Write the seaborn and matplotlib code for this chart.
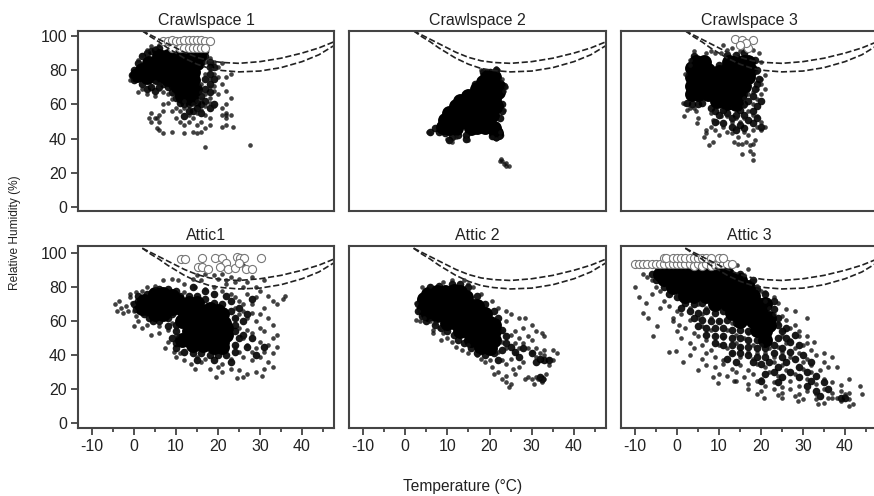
import matplotlib
matplotlib.use("Agg")
import matplotlib.pyplot as plt
import pandas as pd
import seaborn as sns

titles = ["Crawlspace 1", "Crawlspace 2", "Crawlspace 3", "Attic1", "Attic 2", "Attic 3"]
x_ticks = [-10, 0, 10, 20, 30, 40]
x_minor = [-5, 5, 15, 25, 35, 45]
y_ticks = [0, 20, 40, 60, 80, 100]

curve_t = [2, 4, 6, 8, 10, 12, 15, 18, 21, 25, 30, 35, 40, 44, 48]
curve_upper = [103, 100.5, 98, 95.5, 93, 90.5, 87.5, 85.5, 84.5, 84, 85, 87, 90, 93, 97]
curve_lower = [103, 99.5, 96.5, 93, 90, 87, 83.5, 81, 79.8, 79, 79.5, 81.5, 85, 89, 95]

c1_core = [(6, 88), (8, 88), (10, 88), (12, 88), (14, 88), (15.5, 88), (3.5, 84), (5, 84), (7, 85), (9, 84), (11, 84),
           (13, 84), (15, 84), (2, 80), (4, 80), (6, 80), (8, 80), (10, 80), (12, 79), (14, 79), (0.8, 77), (3, 76),
           (5.5, 76), (8, 75), (10, 75), (12, 74), (14, 74), (10.5, 70), (12.5, 69), (14.5, 69), (11.5, 65), (13.5, 64)]
c1_mid = [(0, 74), (2, 72), (4, 70), (6, 70), (8, 70), (9, 67), (10, 64), (11, 61), (13, 60), (15, 61), (16, 65), (17, 69),
          (18, 72), (17, 75), (18, 78), (18, 82), (18, 85), (17, 88), (19, 82), (19, 75), (15, 58), (13, 56), (12, 60),
          (9, 71), (5, 68), (3, 69), (7, 72), (16, 60), (18, 58), (17, 62), (14, 56), (10, 68), (2, 88), (4, 91), (3, 90),
          (5, 92), (1, 84), (0, 80), (-0.5, 77), (6, 93), (17, 91), (15.5, 91), (18, 67), (19, 60), (16, 55), (12, 53)]
c1_dots = [(-1, 74), (2, 69), (1, 67), (3, 66), (4, 71), (5, 73), (6, 69), (7, 67), (8, 66), (5, 65), (9, 63), (8, 61),
           (7, 60), (10, 58), (9, 56), (11, 56), (12, 58), (13, 54), (14, 52), (13, 50), (15, 55), (16, 57), (17, 59),
           (18, 61), (19, 59), (17, 54), (18, 52), (16, 50), (15, 48), (17, 46), (18, 48), (16, 44), (14, 44), (15, 43),
           (12, 43), (9, 44), (6, 45), (7, 43), (5.5, 46), (6, 50), (5, 52), (4, 55), (6, 54), (7, 56), (4, 50), (5.5, 52),
           (3.5, 52), (10, 52), (11, 50), (12, 48), (17, 35), (27.5, 36), (22, 54), (23, 54), (22, 55), (21, 54), (22, 52),
           (21, 47), (22, 48), (23.5, 47), (21, 58), (22, 60), (23, 64), (22, 68), (21, 72), (22, 76), (23, 78), (21, 84),
           (19, 85), (20, 82), (19, 78), (18, 75), (20, 76), (18, 70), (19, 68), (20, 66), (17, 66), (16, 63), (18, 82),
           (17, 85), (19, 71), (18, 64), (16, 72), (17, 78), (15, 62), (14, 60), (12, 62), (9, 66), (6, 72), (2, 89),
           (3, 92), (4, 94), (1, 86), (5, 93), (6, 95), (16, 67), (18, 87), (15, 58)]
c1_open = [(7, 97), (8, 97), (9, 97.5), (10, 97), (11, 97), (12, 97.5), (13, 97.5), (14, 97.5), (15, 97.5), (16, 97.5),
           (17, 97), (18, 97), (9, 93), (11, 93), (12, 93), (13, 93), (14, 93), (15, 93), (16, 93), (17, 93)]

c2_core = [(19.5, 76), (21, 76), (18.5, 73), (20.5, 72), (22, 71), (17, 69), (19, 69), (21, 67), (22, 67), (15, 65),
           (13, 62), (15, 62), (17, 64), (19, 64), (21, 63), (12, 59), (14, 58), (16, 59), (18, 59), (20, 58), (21.5, 59),
           (10.5, 55), (12.5, 54), (14.5, 54), (16.5, 54), (18.5, 54), (20.5, 54), (9.5, 51), (11, 50), (13, 50), (15, 50),
           (17, 50), (19, 50), (9, 47), (10.5, 46), (12, 46), (15.5, 46), (17, 47), (19, 47), (21, 46), (21.5, 43.5)]
c2_mid = [(7, 46), (6, 44), (8, 44), (9.5, 43), (11, 41), (10.5, 39), (14.5, 42), (14.5, 40), (12.5, 42), (20.5, 41.5),
          (21.5, 41), (22.5, 42), (23, 60), (23, 56), (22.5, 52), (18.5, 79), (20, 79), (21.6, 80), (23.5, 71), (16.5, 72)]
c2_dots = [(5.5, 44), (6, 43), (10.5, 39), (11, 38), (10, 40), (12, 41), (14.5, 42), (14.5, 40), (15, 39), (20.5, 41),
           (21.5, 40), (22.5, 41), (22.5, 44), (23.5, 57), (24, 70), (23.5, 68), (23, 75), (22, 80), (21.6, 81),
           (18, 80), (22.8, 28), (22.5, 27), (23, 27), (23.5, 25), (24, 24), (24.5, 24), (24, 25.5)]
c2_open = []

c3_core = [(4.5, 85), (6.5, 85), (3.5, 81), (5.5, 81), (7.5, 80), (3.5, 76), (5, 76), (7, 76), (3.5, 71), (5, 71), (7, 71),
           (9, 71), (3.5, 66), (5, 66), (7.5, 66), (12.5, 85), (14, 85), (16, 85), (17, 85), (10, 79), (12, 80), (14, 81),
           (16, 81), (17.5, 80), (9.5, 76), (11.5, 76), (13.5, 76), (15.5, 76), (17, 76), (10, 71), (12, 71), (14, 71),
           (16, 71), (9, 66), (11, 66), (13, 66), (15, 66), (9.5, 62), (12, 61), (14, 60)]
c3_mid = [(8, 58), (9, 56), (10, 54), (11, 57), (12, 55), (13, 52), (14, 54), (15, 57), (16, 60), (17, 62), (18, 65), (18.5, 69),
          (19, 72), (19.5, 75), (19, 80), (18.5, 86), (2.5, 61), (3.5, 60), (5, 60), (6, 61), (16, 54), (17, 51), (18, 49),
          (19, 52), (15, 48), (13, 47), (11, 49), (9, 50), (16, 46), (18, 56), (19, 59), (20, 62), (14, 45), (4, 88), (10, 83),
          (12, 89), (16, 90), (14, 89), (20, 47)]
c3_dots = [(1.5, 61), (2, 60), (3, 58), (4, 58), (1.7, 53), (2.5, 57), (4.5, 56), (5, 52), (4.8, 49), (7, 45), (8, 47),
           (9, 45), (7, 43), (6.5, 41), (7.7, 36), (8.5, 38), (10, 42), (10.5, 53), (8, 55), (8.5, 51), (9.5, 50), (11, 47),
           (12, 44), (13, 43), (14, 46), (14.5, 41), (13.5, 38), (14.5, 37), (15.5, 37), (16.5, 38), (17.5, 36), (18, 37),
           (18.5, 39), (17.5, 33), (18, 31), (18, 27.5), (15.5, 31), (16, 44), (17, 42), (18, 45), (19, 47), (20, 45),
           (21, 47), (20, 50), (19, 53), (18, 54), (17, 56), (16, 52), (15, 50), (14, 52), (13, 50), (12, 53), (11, 56),
           (16, 59), (18, 60), (19, 63), (20, 66), (21, 69), (20, 72), (19, 69), (20, 75), (21, 77), (19, 79), (20, 85),
           (19.5, 90), (18, 92), (17, 93), (12, 92), (13, 93), (10.5, 90), (11, 95), (9, 90), (8, 91), (7, 90), (4, 91),
           (3, 86), (3, 83), (2, 78), (16, 64), (17, 66), (18, 67), (15, 91), (16, 92)]
c3_open = [(13.8, 98), (15.5, 97.5), (18, 97.5), (17, 93), (16.5, 96), (15, 95)]

a1_core = [(5, 76), (7, 76), (9, 75), (2.5, 72), (4.5, 72), (6.5, 72), (8.5, 72), (10.5, 72), (2, 68), (3, 68), (5, 68),
           (7, 68), (9, 68), (5, 64), (7, 64), (11, 70), (13, 71), (15, 71), (12, 66), (14, 66), (16, 66), (18, 67),
           (20, 66), (21, 64), (11.5, 60), (13.5, 60), (15.5, 60), (17.5, 60), (19.5, 60), (21.5, 59), (22, 56),
           (13, 54), (15, 54), (17, 54), (19, 54), (21, 54), (22, 52), (11.5, 49), (13, 49), (15, 49), (17, 49), (19, 49),
           (21, 48), (14, 46), (16.5, 46), (19, 45), (21, 45)]
a1_mid = [(0, 70), (0.5, 67), (1, 72), (2.5, 64), (3.5, 62), (4.5, 60), (6, 60), (8, 62), (9, 64), (10, 66), (8, 79), (6, 79),
          (10, 78), (11, 75), (13, 75), (15, 75), (17, 73), (19, 71), (21, 70), (23, 66), (24, 62), (24, 58), (24, 54), (25, 50),
          (24, 46), (24, 42), (22, 40), (20, 40), (18, 40), (16, 41), (14, 41), (12, 42), (10, 44), (10, 47), (9, 50), (10, 54),
          (10, 58), (8, 57), (25, 68), (23, 72), (17, 78), (14, 80), (19, 76), (22, 75), (26, 60), (26, 52), (27, 45), (23, 36),
          (19, 37), (15, 37), (29, 40), (31, 45), (28, 50), (3, 76), (1, 75), (27, 64), (28, 73)]
a1_dots = [(-4.5, 70), (-4, 66), (-3.5, 72), (-3, 68), (-2.5, 65), (-2, 69), (-1.5, 66), (-1, 74), (-0.5, 71), (0, 66),
           (-1, 76), (0.5, 77), (2, 78), (3, 80), (5, 81), (7, 84), (9, 85), (10.5, 84), (12, 82), (14, 85), (15, 87),
           (16, 84), (17, 88), (18, 91), (19, 87), (20, 85), (21, 88), (22, 84), (23, 86), (24, 83), (25, 85), (26, 80),
           (27, 83), (28, 86), (29, 80), (30, 78), (31, 84), (32, 75), (33, 72), (36, 75), (35.5, 73), (34, 70), (31, 68),
           (29, 74), (27, 76), (25, 72), (24, 68), (26, 66), (28, 70), (30, 64), (32, 62), (33, 58), (34, 52), (33, 50),
           (31, 54), (29, 60), (27, 62), (25, 56), (26, 50), (28, 53), (30, 48), (32, 46), (34, 45), (33, 41), (31, 42),
           (29, 44), (27, 46), (25, 42), (24, 45), (26, 39), (28, 37), (30, 39), (32, 36), (33, 33), (31, 32), (30.5, 28),
           (29, 30), (27, 29), (26, 27), (24.5, 26.5), (25, 31), (23, 32), (21, 30), (19.5, 27), (20, 33), (18, 32),
           (16, 36), (14.5, 32), (13.5, 35), (12, 37), (10, 39), (9.5, 42), (7.5, 44), (8, 48), (6, 53), (4, 52), (2, 56),
           (0, 57), (1, 60), (3, 58), (6, 57), (8, 55), (10, 52), (21, 35), (23, 38), (17, 38), (15, 39), (11, 41),
           (0.5, 63), (10, 56), (9, 59), (24, 62), (25, 64), (23, 76), (21, 78), (19, 80), (17, 79), (14.5, 80), (12, 77),
           (24, 74), (26, 70), (28, 65), (27, 55), (30, 56), (28, 42), (22, 82), (24, 90), (28, 90), (26, 93)]
a1_open = [(11.3, 96.5), (12.2, 96.5), (16.3, 97), (15.2, 92), (16.3, 92), (17.7, 91), (19.2, 97), (21, 97.5), (22, 94),
           (20.5, 92), (22.5, 91), (24, 91.5), (24.5, 98), (25.3, 97.5), (26.3, 97.5), (26.7, 91), (28, 90.5), (30.2, 97.5),
           (25, 94)]

a2_core = [(5.5, 76), (7.5, 77), (9.5, 77), (11.5, 78), (13, 77), (4.5, 73), (6.5, 74), (8.5, 74), (10.5, 74), (12.5, 74),
           (14.5, 74), (4.5, 68), (6, 68), (8, 69), (10, 69), (12, 69), (14, 69), (16, 69), (17, 69), (5.5, 64), (7.5, 63.5),
           (9.5, 64), (11.5, 64), (13.5, 64), (15.5, 64), (17.5, 64), (19, 64), (10, 59), (12, 59), (14, 59), (16, 59),
           (18, 59), (20, 59), (21, 58), (13, 54), (15, 54), (17, 54), (19, 54), (21, 54), (15.5, 49), (17.5, 49),
           (19.5, 49), (21, 49), (18, 45), (20, 44)]
a2_mid = [(3, 70), (3, 66), (3.5, 72), (4, 63), (5, 60), (7, 58), (8.5, 56), (10, 54), (11.5, 52), (12.5, 49), (14, 47), (15.5, 44),
          (17, 41), (19, 40), (21, 41), (23, 43), (24, 47), (24, 51), (23, 55), (22, 62), (21, 66), (19, 70), (17, 75),
          (15, 80), (13, 82), (11, 82), (8, 81), (6, 80), (25, 45), (26, 42), (27, 39), (28, 44), (22, 37), (30, 41), (32, 38),
          (33, 37), (31, 36), (34, 37), (32, 27), (32.5, 26)]
a2_dots = [(2.5, 61), (3, 66), (2.5, 71), (3.5, 60), (4.5, 62), (6, 60), (7, 59), (6.5, 55), (6.5, 53), (8, 56), (9, 53),
           (8.5, 49), (10, 50), (11, 48), (12, 45), (13.5, 43), (15, 46), (15, 41), (17, 40), (18, 38), (19, 36), (20, 37),
           (20.5, 33), (21, 29), (22, 30), (23, 26), (24, 24), (24.5, 21), (25, 23), (24, 28), (25.5, 32), (26, 29), (27, 33),
           (28, 36), (29, 27), (28.5, 26), (30, 26), (31, 27), (31.5, 26), (32, 27), (33, 26), (32.5, 24), (30.5, 23), (33.5, 29),
           (34, 34), (35, 37), (36, 41), (35, 43), (33, 40), (32, 38), (31, 39), (32, 41), (33, 43), (34, 38), (31, 44),
           (30, 42), (29, 44), (28, 47), (27, 44), (26, 41), (25, 38), (24, 35), (23, 37), (22, 42), (24, 44), (26, 47),
           (27, 50), (25, 52), (26, 54), (29, 51), (30, 49), (30, 58), (31, 54), (32.5, 53), (33, 51), (28, 56), (27, 62),
           (28.5, 62), (25, 64), (24, 60), (24, 66), (22, 68), (20.5, 72), (18, 76), (16, 80), (14, 84), (11, 84), (9, 83),
           (6, 81), (4, 80), (15, 82), (23, 54), (23, 48)]
a2_open = []

a3_core = [(-4, 88), (-2, 88), (0, 88), (2, 88), (4, 88), (6, 88), (8, 88), (10, 88), (12, 88), (-3, 85), (-1, 85), (1, 85),
           (3, 85), (5, 85), (7, 85), (9, 85), (11, 85), (13, 85), (15, 84), (-1, 80), (1, 80), (3, 80), (5, 80), (7, 80),
           (9, 80), (11, 80), (13, 80), (15, 80), (17, 80), (2, 75), (4, 75), (7, 75), (10, 75), (12, 75), (14, 75), (16, 75),
           (18, 75), (9, 70), (12, 70), (15, 70), (17, 70), (19, 70), (13, 65), (16, 65), (18, 65), (20, 65), (15, 60),
           (18, 60), (20, 60), (19, 55), (21, 54), (21, 49), (22, 58), (22, 62), (21, 70)]
a3_mid = [(-6, 88), (-5, 84), (-3, 80), (-2, 76), (0, 74), (2, 71), (4, 70), (6, 71), (1, 68), (3, 66), (5, 65), (7, 66), (9, 65),
          (11, 66), (4, 62), (6, 61), (8, 60), (10, 60), (12, 61), (14, 59), (5, 57), (7, 56), (9, 56), (11, 56), (13, 55),
          (15, 55), (17, 54), (7, 52), (9, 51), (11, 51), (13, 50), (15, 50), (17, 49), (19, 49), (9, 47), (11, 46), (13, 46),
          (15, 45), (17, 45), (19, 44), (21, 44), (23, 46), (24, 50), (25, 54), (24, 58), (24, 62), (23, 67), (23, 72), (21, 76),
          (19, 79), (18, 84), (15, 88), (13, 41), (15, 41), (17, 40), (19, 39), (21, 39), (23, 41), (25, 44), (27, 48),
          (28, 52), (26, 56), (26, 50), (25, 39), (27, 42), (29, 46), (18, 36), (20, 35), (22, 36), (24, 33), (26, 36), (28, 38),
          (30, 40), (32, 36), (21, 29), (23, 30), (25, 27), (27, 30), (29, 27), (31, 30), (33, 28), (35, 24), (31, 22), (33, 19),
          (36, 20), (34, 16), (39, 15), (40, 15), (32, 25), (29, 33), (14, 36), (12, 38), (20, 25), (24, 24)]
a3_dots = [(-10, 80), (-9, 74), (-7.3, 71), (-8, 65), (-6.8, 62), (-4.8, 57), (-5.6, 51), (-2, 42), (-0.2, 42.5), (1.5, 36),
           (5, 31), (8.5, 27), (9.7, 23.5), (13.7, 24.5), (19, 17), (20.7, 14.7), (24, 16.7), (28.7, 13), (33.5, 11), (36, 15),
           (38, 15), (40, 16), (41, 10), (42, 11), (44, 17), (43.6, 22), (41, 26), (39, 22.5), (38, 33), (37, 39), (35, 41),
           (32.7, 48), (31, 51), (31, 62), (28, 66), (26, 67), (24, 71), (21, 77), (19, 81), (14.4, 93), (17, 91),
           (-7, 86), (-8, 88), (-6, 84), (-5, 80), (-4, 78), (-6, 76), (-3, 72), (-2, 69), (-4, 68), (0, 66), (-1, 62), (1, 64),
           (-1, 60), (0.5, 58), (3, 61), (5, 62), (6, 64), (0, 54), (2, 56), (4, 53), (6, 57), (8, 55), (1, 50), (3, 47),
           (5, 51), (7, 49), (9, 52), (11, 50), (4, 44), (6, 46), (8, 43), (10, 46), (12, 44), (14, 47), (15, 45),
           (3, 40), (6, 38), (7, 41), (9, 39), (11, 37), (13, 41), (15, 39), (17, 42), (18, 38), (19, 41),
           (7, 34), (9, 33), (11, 35), (13, 32), (15, 34), (17, 31), (19, 35), (21, 33), (23, 36), (25, 34),
           (10, 29), (12, 28), (14, 30), (16, 27), (18, 29), (20, 26), (22, 30), (24, 28), (26, 31), (28, 29), (30, 32), (32, 30),
           (14, 25), (17, 23), (19, 25), (21, 22), (23, 24), (25, 21), (27, 25), (29, 22), (31, 26), (33, 23), (35, 26), (37, 24),
           (17, 20), (20, 19), (23, 20), (25, 18), (27, 20), (29, 17), (31, 19), (33, 17), (35, 20), (37, 18), (39, 19),
           (25, 15), (28, 16), (30, 14), (33, 14), (35, 12), (37, 15), (39, 13), (41, 14), (40, 17), (41, 18),
           (21, 41), (23, 39), (25, 42), (27, 39), (29, 41), (31, 38), (33, 40), (35, 36), (36, 33), (34, 31), (32, 34), (30, 36),
           (24, 45), (26, 47), (28, 44), (30, 46), (32, 43), (25, 51), (27, 49), (29, 51), (31, 47), (25, 55), (27, 56), (29, 54),
           (24, 59), (26, 61), (28, 58), (23, 64), (25, 63), (22, 68), (23, 74), (20, 78), (21, 72), (18, 84), (16, 87),
           (12, 55), (14, 52), (16, 50), (17, 53), (10, 60), (8, 62), (7, 68), (5, 70), (3, 68), (13, 59), (22, 44), (20, 46), (18, 46)]
a3_open = [(-10, 93.5), (-9, 93.5), (-8, 93.5), (-7, 93.5), (-6, 93.5), (-5, 93.5), (-4, 93.5), (-3, 93.5), (-2, 93.5),
           (-1, 93.5), (0, 93.5), (1, 93.5), (2, 93.5), (3, 93.5), (4, 92.5), (5, 93.5), (6, 92.5), (7, 93.5), (8, 92.5),
           (9, 93), (10, 93.5), (11, 93.5), (12, 93.5), (13, 93.5), (-3, 97), (-2.5, 97.5), (-1, 97), (0, 97), (1, 97),
           (2, 97), (3, 97), (4, 97), (5, 97), (6, 97), (7, 97), (8, 97), (10, 97.5), (11, 97.5)]

panels = [(c1_core, c1_mid, c1_dots, c1_open), (c2_core, c2_mid, c2_dots, c2_open), (c3_core, c3_mid, c3_dots, c3_open),
          (a1_core, a1_mid, a1_dots, a1_open), (a2_core, a2_mid, a2_dots, a2_open), (a3_core, a3_mid, a3_dots, a3_open)]

sns.set_theme(style="ticks")
plt.rcParams["font.family"] = ["Liberation Sans", "DejaVu Sans"]
plt.rcParams["axes.unicode_minus"] = False
W, H = 874, 496
fig = plt.figure(figsize=(W / 100, H / 100), dpi=100)
cols = [(78, 334), (349, 606), (621, 877)]
rows = [(31, 211), (246, 428)]
ylims = [(-2.3, 102.9), (-2.9, 104.3)]
ink = "#333333"


def frame(points):
    return pd.DataFrame(points, columns=["t", "rh"])


for i, (core, mid, dots, opened) in enumerate(panels):
    r, c = divmod(i, 3)
    x0, x1 = cols[c]
    y0, y1 = rows[r]
    ax = fig.add_axes([x0 / W, 1 - y1 / H, (x1 - x0) / W, (y1 - y0) / H])
    sns.scatterplot(data=frame(core), x="t", y="rh", ax=ax, s=115, color="black", linewidth=0)
    sns.scatterplot(data=frame(mid), x="t", y="rh", ax=ax, s=30, color="black", alpha=0.9, linewidth=0)
    sns.scatterplot(data=frame(dots), x="t", y="rh", ax=ax, s=11, color="#111111", alpha=0.8, linewidth=0)
    curves = pd.DataFrame({"t": curve_t, "up": curve_upper, "lo": curve_lower})
    sns.lineplot(data=curves, x="t", y="up", ax=ax, color="#222222", lw=1.2, linestyle="--", errorbar=None)
    sns.lineplot(data=curves, x="t", y="lo", ax=ax, color="#222222", lw=1.2, linestyle="--", errorbar=None)
    if opened:
        sns.scatterplot(data=frame(opened), x="t", y="rh", ax=ax, s=34, color="white", edgecolor="#777777", linewidth=0.8)
    ax.set_xlim(-13.3, 47.6)
    ax.set_ylim(*ylims[r])
    ax.set_xlabel("")
    ax.set_ylabel("")
    ax.set_title(titles[i], fontsize=11.5, color="#222222", pad=4)
    for s in ax.spines.values():
        s.set_linewidth(1.5)
        s.set_color("#444444")
    ax.set_yticks(y_ticks if c == 0 else [])
    if r == 1:
        ax.set_xticks(x_ticks)
        ax.set_xticks(x_minor, minor=True)
    else:
        ax.set_xticks([])
    ax.tick_params(axis="both", which="major", length=5, width=1.2, color=ink, labelsize=11.5, labelcolor="#222222", pad=3)
    ax.tick_params(axis="x", which="minor", length=3, width=1.2, color=ink)

fig.text(463 / W, 1 - 487 / H, "Temperature (°C)", ha="center", va="center", fontsize=11.2, color="#222222")
fig.text(15 / W, 1 - 233 / H, "Relative Humidity (%)", ha="center", va="center", rotation=90, fontsize=8.6, color="#222222")
fig.savefig("out.png", dpi=100)
